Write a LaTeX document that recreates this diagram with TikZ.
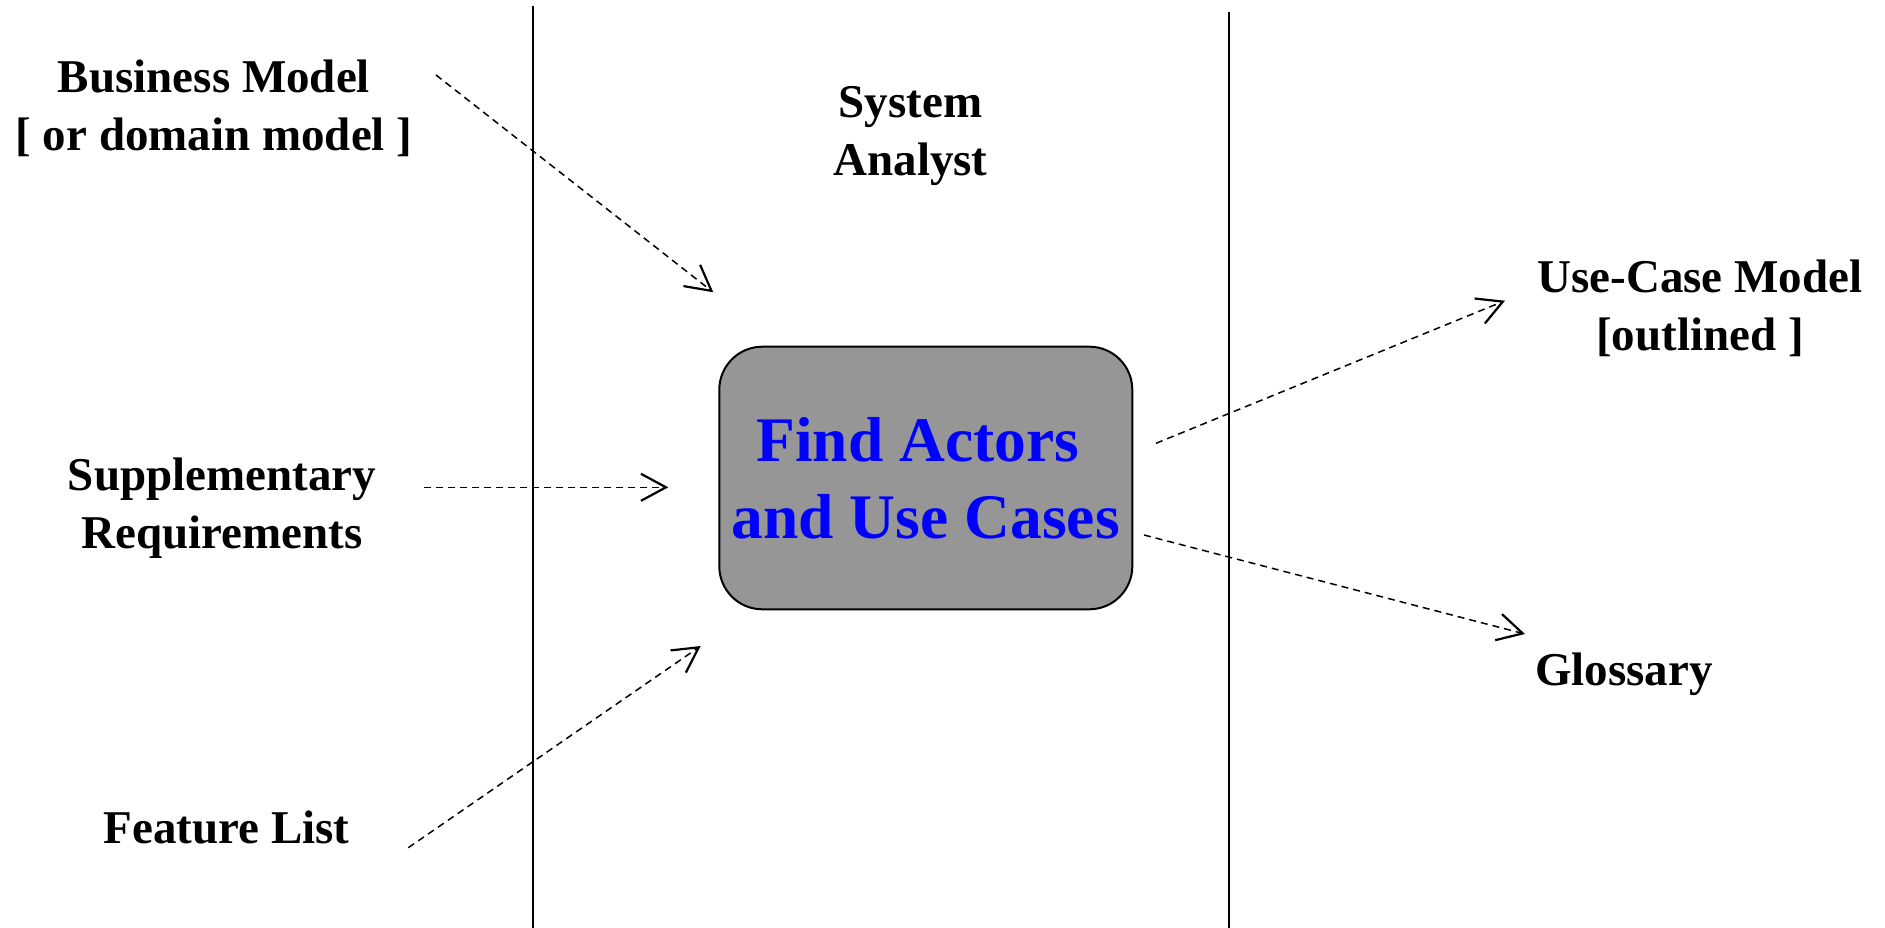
\documentclass[tikz,border=0pt]{standalone}
\usepackage{fontspec}
\setmainfont{Liberation Serif}
\usetikzlibrary{arrows.meta}
\definecolor{boxgray}{RGB}{150,150,150}
\definecolor{boxblue}{RGB}{0,0,255}
\tikzset{
  lbl/.style={font=\bfseries\fontsize{47}{58}\selectfont, inner sep=0pt, align=center, anchor=base},
  lane/.style={line width=2pt, black},
  flow/.style={line width=1.5pt, dash pattern=on 7pt off 5pt, -{Straight Barb[length=25pt,width=27pt,line width=2.2pt]}},
  taskbox/.style={draw=black, line width=2pt, fill=boxgray, rounded corners=43pt,
    minimum width=413pt, minimum height=262.6pt, inner sep=0pt, align=center,
    text=boxblue, font=\bfseries\fontsize{63.5}{77}\selectfont}
}
\begin{document}
\begin{tikzpicture}[x=1pt,y=-1pt]
\useasboundingbox (0,0) rectangle (1885,928);
% swimlane lines
\coordinate (l1t) at (532.5,6);
\coordinate (l1b) at (532.5,928);
\coordinate (l2t) at (1228.5,12);
\coordinate (l2b) at (1228.5,928);
\draw[lane] (l1t) -- (l1b);
\draw[lane] (l2t) -- (l2b);
% labels (base anchor = baseline of last line)
\node[lbl] (bm) at (214,151) {Business Model\\{[} or domain model {]}};
\node[lbl] (sa) at (910.5,176) {System\\Analyst};
\node[lbl] (sr) at (222,548) {Supplementary\\Requirements};
\node[lbl] (fl) at (226.7,843.3) {Feature List};
\node[lbl] (uc) at (1700,350) {Use-Case Model\\{[}outlined {]}};
\node[lbl, anchor=base west] (gl) at (1535,685) {Glossary};
% activity
\node[taskbox] (task) at (925.8,478) {Find Actors\hspace*{16pt}\\and Use Cases};
% connector ends
\coordinate (bmS) at (436,75);
\coordinate (bmE) at (713.3,292.3);
\coordinate (srS) at (424,487.3);
\coordinate (srE) at (668.3,487.3);
\coordinate (flS) at (408.3,847.7);
\coordinate (flE) at (700.7,646);
\coordinate (ucS) at (1156,443.3);
\coordinate (ucE) at (1505,300.7);
\coordinate (glS) at (1144,535);
\coordinate (glE) at (1525,634);
\draw[flow] (bmS) -- (bmE);
\draw[flow] (srS) -- (srE);
\draw[flow] (flS) -- (flE);
\draw[flow] (ucS) -- (ucE);
\draw[flow] (glS) -- (glE);
\end{tikzpicture}
\end{document}
